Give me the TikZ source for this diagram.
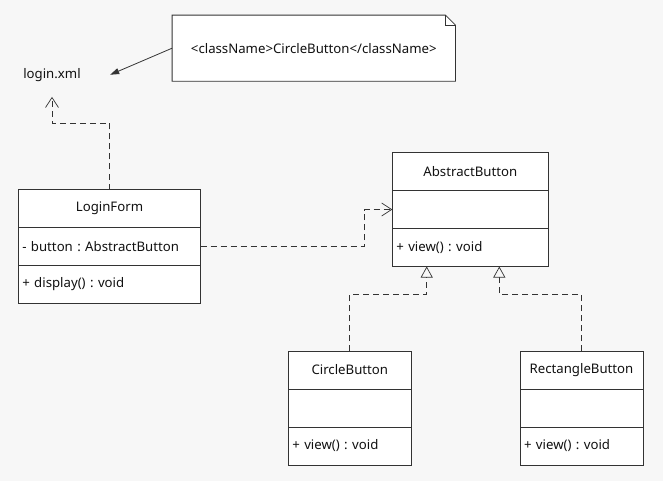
\documentclass[tikz,border=0pt]{standalone}
\usepackage{fontspec}
\setmainfont{Noto Sans}
\frenchspacing
\usetikzlibrary{arrows.meta, positioning}
\definecolor{bgc}{HTML}{F7F7F7}
\definecolor{linec}{HTML}{333333}
\definecolor{textc}{HTML}{111111}

\begin{document}
\begin{tikzpicture}[
    x=1pt, y=1pt,
    every node/.style={font=\fontsize{13.2}{15}\selectfont, text=textc},
    umlhead/.style={draw=linec, fill=white, line width=0.8pt, outer sep=0pt, minimum height=38pt, inner xsep=4pt, text width=#1, align=center},
    umlbody/.style={umlhead=#1, align=left},
    dep/.style={draw=linec, line width=0.8pt, dash pattern=on 6pt off 4pt, -{Straight Barb[length=10pt, width=13pt, line width=0.7pt]}},
    gen/.style={draw=linec, line width=0.8pt, dash pattern=on 6pt off 4pt, -{Triangle[open, length=11pt, width=12pt, line width=0.7pt, fill=bgc]}},
    assoc/.style={draw=linec, line width=0.8pt, -{Triangle[length=9pt, width=6pt]}}
]
\fill[bgc] (0,0) rectangle (663,-481);
\useasboundingbox (0,0) rectangle (663,-481);

% note and file
\node[minimum width=283pt, minimum height=65.7pt] (note) at (313.8,-48.2) {};
\draw[draw=linec, fill=white, line width=0.8pt] (note.north west) -- ([xshift=-10pt]note.north east) -- ([yshift=-10pt]note.north east) -- (note.south east) -- (note.south west) -- cycle;
\draw[draw=linec, line width=0.6pt] ([xshift=-10pt]note.north east) -- ([xshift=-10pt, yshift=-10pt]note.north east) -- ([yshift=-10pt]note.north east);
\node (notetext) at (note) {<className>CircleButton</className>};
\node[minimum width=116pt, minimum height=44pt] (xml) at (52,-74.7) {login.xml};

% classes
\node[umlhead=174.4pt] (formhead) at (109.5,-208.5) {LoginForm};
\node[umlbody=174.4pt, below=0pt of formhead] (formattr) {- button : AbstractButton};
\node[umlbody=174.4pt, below=0pt of formattr] (formops) {+ display() : void};

\node[umlhead=148pt] (absthead) at (470.3,-171.5) {AbstractButton};
\node[umlbody=148pt, below=0pt of absthead] (abstattr) {};
\node[umlbody=148pt, below=0pt of abstattr] (abstops) {+ view() : void};

\node[umlhead=115pt] (circlehead) at (349.8,-370) {CircleButton};
\node[umlbody=115pt, below=0pt of circlehead] (circleattr) {};
\node[umlbody=115pt, below=0pt of circleattr] (circleops) {+ view() : void};

\node[umlhead=115pt] (recthead) at (581.5,-370) {RectangleButton};
\node[umlbody=115pt, below=0pt of recthead] (rectattr) {};
\node[umlbody=115pt, below=0pt of rectattr] (rectops) {+ view() : void};

% connectors
\draw[assoc] (note.west) -- (xml.east);
\draw[dep] (formhead.north) -- ++(0,66) -| (xml.south);
\draw[dep] (formattr.east) -- ++(163.6,0) |- (abstattr.west);
\draw[gen] (circlehead.north) -- ++(0,56.7) -| ([xshift=-43.6pt]abstops.south);
\draw[gen] (recthead.north) -- ++(0,56.7) -| ([xshift=29pt]abstops.south);
\end{tikzpicture}
\end{document}
